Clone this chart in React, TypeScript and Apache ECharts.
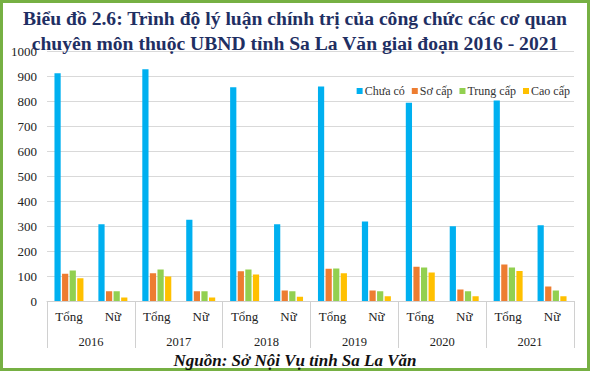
import React, { useEffect, useRef } from "react";
import * as echarts from "echarts";

const groups = ["Tổng", "Nữ", "Tổng", "Nữ", "Tổng", "Nữ", "Tổng", "Nữ", "Tổng", "Nữ", "Tổng", "Nữ"];
const years = ["2016", "2017", "2018", "2019", "2020", "2021"];
const seriesNames = ["Chưa có", "Sơ cấp", "Trung cấp", "Cao cấp"];
const chuaCo = [911, 307, 927, 325, 855, 307, 858, 318, 793, 299, 802, 303];
const soCap = [109, 39, 111, 39, 119, 42, 129, 42, 137, 46, 146, 58];
const trungCap = [122, 39, 126, 39, 126, 39, 130, 39, 134, 39, 134, 42];
const caoCap = [91, 14, 98, 14, 106, 17, 111, 19, 114, 19, 120, 19];
const colors = ["#00b0f0", "#ed7d31", "#92d050", "#ffc000"];
const titleLines = [
  "Biểu đồ 2.6: Trình độ lý luận chính trị của công chức các cơ quan",
  "chuyên môn thuộc UBND tỉnh Sa La Văn giai đoạn 2016 - 2021",
];
const sourceText = "Nguồn: Sở Nội Vụ tỉnh Sa La Văn";

const FONT = "'Liberation Serif', 'Times New Roman', serif";

export default function App() {
  const ref = useRef<HTMLDivElement>(null);
  useEffect(() => {
    if (!ref.current) return;
    const chart = echarts.init(ref.current, null, { renderer: "svg" });
    const values = [chuaCo, soCap, trungCap, caoCap];
    chart.setOption({
      animation: false,
      backgroundColor: "#ffffff",
      textStyle: { fontFamily: FONT },
      title: [
        {
          text: titleLines.join("\n"),
          left: "center",
          top: 1,
          textStyle: {
            fontFamily: FONT,
            fontSize: 19.6,
            fontWeight: "bold",
            color: "#1f2f63",
            lineHeight: 25,
          },
        },
        {
          text: sourceText,
          left: "center",
          top: 347,
          textStyle: {
            fontFamily: FONT,
            fontSize: 17,
            fontWeight: "bold",
            fontStyle: "italic",
            color: "#111111",
          },
        },
      ],
      legend: {
        data: seriesNames,
        right: 15,
        top: 80,
        itemWidth: 6,
        itemHeight: 6,
        itemGap: 7,
        icon: "rect",
        textStyle: { fontFamily: FONT, fontSize: 12, color: "#333333", padding: [0, 0, 0, -3] },
      },
      grid: { left: 47, right: 16, top: 51, bottom: 70, containLabel: false },
      xAxis: [
        {
          type: "category",
          data: groups,
          axisLine: { lineStyle: { color: "#d0d0d0" } },
          axisTick: { show: false },
          axisLabel: {
            interval: 0,
            margin: 9,
            fontFamily: FONT,
            fontSize: 13,
            color: "#222222",
          },
        },
        {
          type: "category",
          data: years,
          position: "bottom",
          axisLine: { show: false },
          axisTick: { show: true, length: 47, lineStyle: { color: "#d0d0d0" } },
          axisLabel: { interval: 0, margin: 34, fontFamily: FONT, fontSize: 12.5, color: "#222222" },
          splitLine: { show: false },
        },
      ],
      yAxis: {
        type: "value",
        min: 0,
        max: 1000,
        interval: 100,
        axisLine: { show: false },
        axisTick: { show: false },
        axisLabel: {
          margin: 10,
          fontFamily: FONT,
          fontSize: 13,
          color: "#222222",
          formatter: (v: number) => String(v),
        },
        splitLine: { lineStyle: { color: "#d9d9d9" } },
      },
      series: seriesNames.map((name, i) => ({
        name,
        type: "bar",
        xAxisIndex: 0,
        data: values[i],
        itemStyle: { color: colors[i] },
        barGap: "22%",
        barCategoryGap: "34%",
      })),
      graphic: [
        {
          type: "rect",
          shape: { x: 1.5, y: 1.5, width: 587, height: 368 },
          style: { fill: "none", stroke: "#76b043", lineWidth: 3 },
          silent: true,
        },
      ],
    });
    return () => chart.dispose();
  }, []);
  return (
    <div
      ref={ref}
      style={{ position: "absolute", left: 0, top: 0, width: 590, height: 371 }}
    />
  );
}
